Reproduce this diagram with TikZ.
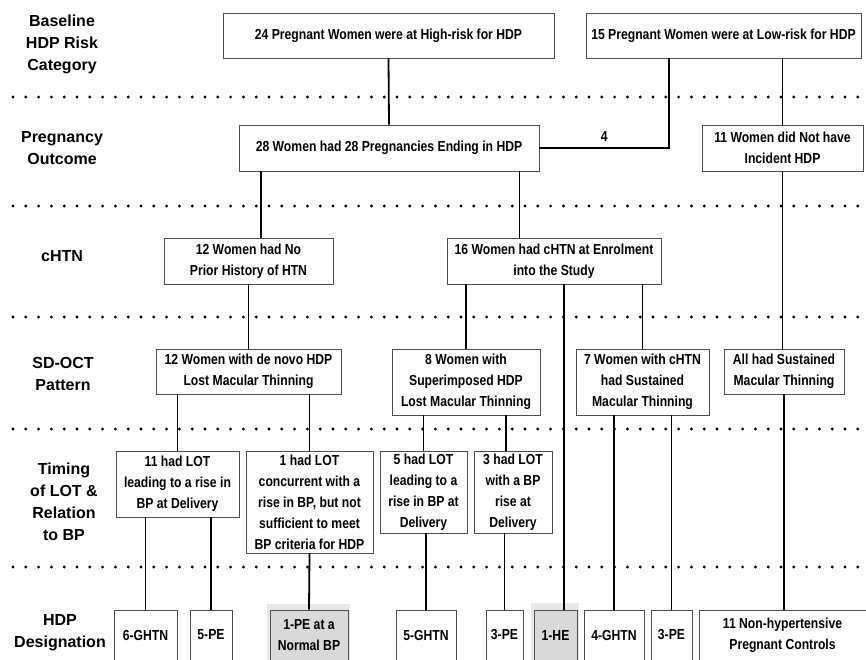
\documentclass[tikz,border=0pt]{standalone}
\usepackage{fontspec}
\setmainfont{Liberation Sans}
\newfontfamily\narrowsf{Liberation Sans}[FakeStretch=0.84]
\usetikzlibrary{positioning,backgrounds}
\tikzstyle{Box}=[rectangle, draw=black!70, line width=0.8pt, align=center, inner sep=0pt, font=\narrowsf\bfseries\fontsize{14.5}{21}\selectfont]
\tikzstyle{Grey}=[Box, fill=black!15]
\tikzstyle{Row}=[align=center, font=\bfseries\fontsize{16}{22}\selectfont]
\tikzstyle{Link}=[line width=1.8pt]
\tikzstyle{Sep}=[line width=3.2pt, dash pattern=on 0pt off 12.8pt, line cap=round]

\begin{document}
\begin{tikzpicture}[x=1pt, y=-1pt]
    \useasboundingbox (0,0) rectangle (866,659);

    % row titles
    \path
    (62,44) node[Row] (r1) {Baseline\\HDP Risk\\Category}
    (62,148) node[Row] (r2) {Pregnancy\\Outcome}
    (62,256) node[Row] (r3) {cHTN}
    (63,374) node[Row] (r4) {SD-OCT\\Pattern}
    (64,502) node[Row] (r5) {Timing\\of LOT \&\\Relation\\to BP}
    (60,633) node[Row] (r6) {HDP\\Designation};

    \foreach \y in {97,206,317,429,567}
        \draw[Sep] (13,\y) -- (866,\y);

    % boxes
    \path
    (388.5,35.5) node[Box, minimum width=331pt, minimum height=45pt] (high) {24 Pregnant Women were at High-risk for HDP}
    (723.5,35.5) node[Box, minimum width=275pt, minimum height=45pt] (low) {15 Pregnant Women were at Low-risk for HDP}
    (389,148) node[Box, minimum width=300pt, minimum height=46pt] (hdp) {28 Women had 28 Pregnancies Ending in HDP}
    (782.5,148) node[Box, minimum width=161pt, minimum height=46pt] (nohdp) {11 Women did Not have\\Incident HDP}
    (248.5,261) node[Box, minimum width=169pt, minimum height=46pt] (noprior) {12 Women had No\\Prior History of HTN}
    (554,261) node[Box, minimum width=214pt, minimum height=46pt] (chtn) {16 Women had cHTN at Enrolment\\into the Study}
    (248.5,371.5) node[Box, minimum width=185pt, minimum height=45pt] (denovo) {12 Women with de novo HDP\\Lost Macular Thinning}
    (466,382) node[Box, minimum width=148pt, minimum height=66pt] (superimp) {8 Women with\\Superimposed HDP\\Lost Macular Thinning}
    (642.5,382) node[Box, minimum width=133pt, minimum height=66pt] (sustained) {7 Women with cHTN\\had Sustained\\Macular Thinning}
    (784,371.5) node[Box, minimum width=120pt, minimum height=45pt] (allsust) {All had Sustained\\Macular Thinning}
    (177.5,484) node[Box, minimum width=123pt, minimum height=66pt] (lotA) {11 had LOT\\leading to a rise in\\BP at Delivery}
    (309.5,502) node[Box, minimum width=127pt, minimum height=102pt] (lotB) {1 had LOT\\concurrent with a\\rise in BP, but not\\sufficient to meet\\BP criteria for HDP}
    (423.5,492) node[Box, minimum width=87pt, minimum height=82pt] (lotC) {5 had LOT\\leading to a\\rise in BP at\\Delivery}
    (513,492) node[Box, minimum width=78pt, minimum height=82pt] (lotD) {3 had LOT\\with a BP\\rise at\\Delivery};

    % designations
    \path
    (145.5,635) node[Box, minimum width=63pt, minimum height=50pt] (ghtnA) {6-GHTN}
    (211,635) node[Box, minimum width=42pt, minimum height=50pt] (peA) {5-PE}
    (309,635) node[Grey, minimum width=78pt, minimum height=50pt] (penorm) {1-PE at a\\Normal BP}
    (426,635) node[Box, minimum width=60pt, minimum height=50pt] (ghtnB) {5-GHTN}
    (504.5,635) node[Box, minimum width=37pt, minimum height=50pt] (peB) {3-PE}
    (555.5,635) node[Grey, minimum width=43pt, minimum height=50pt] (he) {1-HE}
    (614,635) node[Box, minimum width=60pt, minimum height=50pt] (ghtnC) {4-GHTN}
    (671.5,635) node[Box, minimum width=41pt, minimum height=50pt] (peC) {3-PE}
    (782.5,635) node[Box, minimum width=167pt, minimum height=50pt] (controls) {11 Non-hypertensive\\Pregnant Controls};

    \begin{scope}[on background layer]
        \fill[black!9] ([shift={(-3pt,6pt)}]penorm.north west) rectangle ([xshift=2pt]penorm.south east);
        \fill[black!9] ([shift={(-3pt,7pt)}]he.north west) rectangle ([xshift=2pt]he.south east);
    \end{scope}

    % links
    \draw[Link] (high.south) -- (hdp.north);
    \draw[Link] (hdp.east) -| ([xshift=-54.5pt]low.south)
        node[pos=0.25, above=2pt, font=\narrowsf\bfseries\fontsize{14.5}{16}\selectfont] {4};
    \draw[Link] (nohdp.north) -- (nohdp.north |- low.south);
    \draw[Link] ([xshift=22pt]hdp.south west) -- ([xshift=22pt]hdp.south west |- noprior.north);
    \draw[Link] ([xshift=-20pt]hdp.south east) -- ([xshift=-20pt]hdp.south east |- chtn.north);
    \draw[Link] (noprior.south) -- (denovo.north);
    \draw[Link] (superimp.north) -- (superimp.north |- chtn.south);
    \draw[Link] ([xshift=10pt]chtn.south) -- ([xshift=10pt]chtn.south |- he.north);
    \draw[Link] (sustained.north) -- (sustained.north |- chtn.south);
    \draw[Link] (nohdp.south) -- (nohdp.south |- allsust.north);
    \draw[Link] (allsust.south) -- (allsust.south |- controls.north);
    \draw[Link] (lotA.north) -- (lotA.north |- denovo.south);
    \draw[Link] (lotB.north) -- (lotB.north |- denovo.south);
    \draw[Link] (lotC.north) -- (lotC.north |- superimp.south);
    \draw[Link] ([xshift=-7pt]lotD.north) -- ([xshift=-7pt]lotD.north |- superimp.south);
    \draw[Link] (ghtnA.north) -- (ghtnA.north |- lotA.south);
    \draw[Link] (peA.north) -- (peA.north |- lotA.south);
    \draw[Link] (lotB.south) -- (penorm.north);
    \draw[Link] (ghtnB.north) -- (ghtnB.north |- lotC.south);
    \draw[Link] (peB.north) -- (peB.north |- lotD.south);
    \draw[Link] (ghtnC.north) -- (ghtnC.north |- sustained.south);
    \draw[Link] (peC.north) -- (peC.north |- sustained.south);
\end{tikzpicture}
\end{document}
